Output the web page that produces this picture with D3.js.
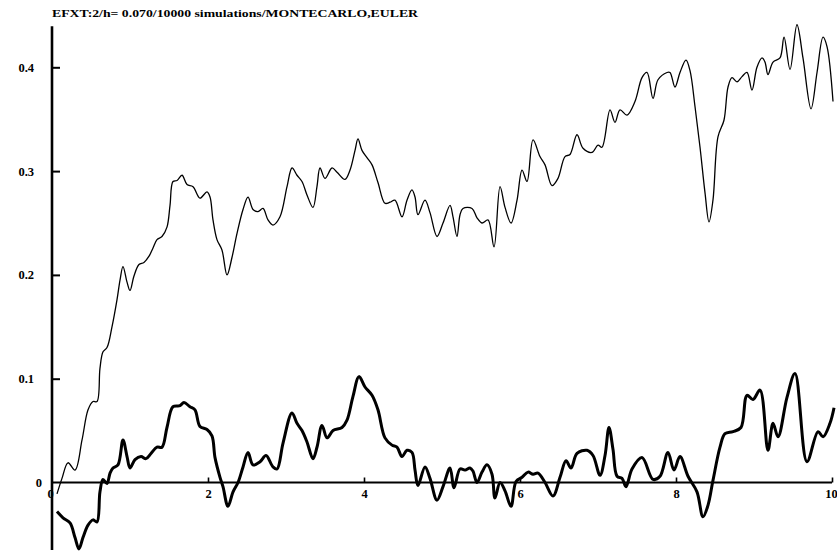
<!DOCTYPE html>
<html><head><meta charset="utf-8">
<script src="https://cdn.jsdelivr.net/npm/d3@7"></script>
<style>body{margin:0;background:#fff}svg{display:block}</style>
</head><body><svg id="c" width="837" height="553"></svg>
<script>
const titleText = "EFXT:2/h= 0.070/10000 simulations/MONTECARLO,EULER";
const xTickValues = [0, 2, 4, 6, 8, 10];
const yTickValues = [0, 0.1, 0.2, 0.3, 0.4];

const upperT = [0.064,0.128,0.205,0.295,0.385,0.462,0.526,0.577,0.615,0.654,0.705,0.769,0.833,0.872,0.910,0.962,1.000,1.051,1.115,1.179,1.244,1.295,1.346,1.410,1.474,1.513,1.551,1.603,1.667,1.731,1.808,1.897,1.987,2.026,2.064,2.115,2.179,2.244,2.308,2.372,2.449,2.513,2.577,2.641,2.705,2.769,2.833,2.923,3.013,3.077,3.141,3.205,3.269,3.346,3.397,3.436,3.500,3.590,3.654,3.756,3.821,3.885,3.923,3.974,4.038,4.103,4.179,4.269,4.333,4.397,4.487,4.551,4.615,4.654,4.692,4.782,4.846,4.936,5.013,5.103,5.141,5.192,5.231,5.269,5.385,5.449,5.513,5.590,5.667,5.744,5.808,5.885,5.962,6.026,6.090,6.167,6.256,6.321,6.410,6.487,6.577,6.641,6.731,6.808,6.923,7.000,7.051,7.154,7.218,7.282,7.372,7.474,7.564,7.628,7.705,7.769,7.885,7.923,7.987,8.051,8.128,8.179,8.244,8.308,8.372,8.423,8.474,8.538,8.615,8.667,8.718,8.782,8.846,8.910,8.974,9.038,9.103,9.141,9.179,9.244,9.333,9.385,9.462,9.551,9.628,9.731,9.808,9.885,9.936,10.013];
const upperV = [-0.011,0.004,0.019,0.012,0.041,0.070,0.078,0.078,0.110,0.126,0.130,0.150,0.176,0.195,0.208,0.193,0.185,0.199,0.210,0.212,0.218,0.226,0.234,0.237,0.246,0.267,0.290,0.291,0.296,0.287,0.285,0.274,0.280,0.275,0.253,0.234,0.224,0.200,0.217,0.240,0.263,0.275,0.263,0.261,0.264,0.253,0.248,0.256,0.285,0.303,0.296,0.290,0.277,0.265,0.285,0.303,0.293,0.303,0.299,0.292,0.301,0.320,0.331,0.320,0.313,0.306,0.289,0.269,0.270,0.272,0.256,0.272,0.282,0.275,0.258,0.272,0.260,0.237,0.250,0.267,0.256,0.237,0.258,0.264,0.264,0.255,0.250,0.253,0.227,0.285,0.265,0.250,0.272,0.301,0.290,0.330,0.314,0.306,0.286,0.293,0.314,0.316,0.335,0.322,0.318,0.325,0.323,0.359,0.347,0.359,0.354,0.367,0.390,0.395,0.370,0.388,0.395,0.395,0.381,0.395,0.407,0.397,0.362,0.323,0.279,0.251,0.272,0.333,0.349,0.381,0.390,0.386,0.391,0.395,0.378,0.400,0.409,0.405,0.393,0.405,0.409,0.429,0.398,0.441,0.409,0.360,0.395,0.429,0.420,0.367];

const lowerT = [0.064,0.141,0.231,0.295,0.346,0.397,0.462,0.526,0.577,0.615,0.654,0.705,0.744,0.782,0.846,0.910,0.962,1.000,1.064,1.141,1.205,1.269,1.346,1.410,1.474,1.551,1.641,1.692,1.769,1.833,1.897,1.987,2.051,2.090,2.154,2.192,2.256,2.321,2.385,2.449,2.513,2.577,2.667,2.744,2.833,2.885,2.962,3.077,3.141,3.205,3.269,3.346,3.397,3.462,3.526,3.603,3.718,3.782,3.859,3.936,4.013,4.103,4.179,4.269,4.359,4.423,4.487,4.551,4.615,4.654,4.692,4.782,4.846,4.936,5.013,5.103,5.154,5.231,5.295,5.359,5.397,5.449,5.513,5.577,5.641,5.679,5.744,5.808,5.885,5.949,6.026,6.103,6.167,6.231,6.321,6.423,6.513,6.590,6.654,6.731,6.859,6.936,7.026,7.090,7.141,7.192,7.244,7.308,7.359,7.436,7.564,7.705,7.795,7.897,7.974,8.051,8.154,8.269,8.346,8.410,8.474,8.564,8.628,8.731,8.833,8.910,8.987,9.077,9.179,9.244,9.308,9.423,9.526,9.679,9.821,9.885,9.974,10.026];
const lowerV = [-0.028,-0.034,-0.039,-0.053,-0.064,-0.053,-0.041,-0.036,-0.038,-0.009,0.003,-0.001,0.009,0.014,0.017,0.041,0.025,0.014,0.022,0.025,0.023,0.028,0.034,0.034,0.053,0.073,0.074,0.077,0.073,0.070,0.054,0.051,0.045,0.024,0.005,-0.004,-0.023,-0.009,0.000,0.015,0.029,0.017,0.020,0.026,0.015,0.013,0.038,0.067,0.057,0.050,0.039,0.023,0.034,0.055,0.043,0.050,0.053,0.060,0.083,0.102,0.092,0.084,0.070,0.043,0.036,0.034,0.025,0.031,0.029,0.012,-0.003,0.015,0.004,-0.017,-0.004,0.014,-0.005,0.013,0.012,0.014,0.011,0.000,0.010,0.017,0.008,-0.015,0.000,-0.008,-0.023,0.001,0.005,0.010,0.008,0.009,0.000,-0.013,0.005,0.021,0.014,0.028,0.031,0.026,0.007,0.026,0.053,0.032,0.006,0.004,-0.004,0.013,0.024,0.003,0.006,0.029,0.012,0.025,0.006,-0.009,-0.033,-0.022,0.002,0.034,0.047,0.049,0.053,0.084,0.080,0.089,0.031,0.057,0.044,0.082,0.105,0.020,0.049,0.044,0.057,0.072];

const svg = d3.select("#c");
const x = d3.scaleLinear().domain([0, 10]).range([52, 832]);
const y = d3.scaleLinear().domain([0, 0.4]).range([482.5, 67.3]);
const font = "'Liberation Serif','Times New Roman',serif";

// title
svg.append("text").attr("x", 52).attr("y", 16.5)
  .attr("font-family", font).attr("font-weight", "bold").attr("font-size", 10.5)
  .attr("textLength", 366).attr("lengthAdjust", "spacingAndGlyphs")
  .text(titleText);

// axis lines
svg.append("line").attr("x1", x(0)).attr("x2", x(0))
  .attr("y1", y(0.44) + 0.5).attr("y2", y(-0.065))
  .attr("stroke", "#000").attr("stroke-width", 2.6);
svg.append("line").attr("x1", x(0)).attr("x2", x(10))
  .attr("y1", y(0)).attr("y2", y(0))
  .attr("stroke", "#000").attr("stroke-width", 2);

// y axis ticks
const yAxis = d3.axisLeft(y).tickValues(yTickValues)
  .tickSizeInner(-8).tickSizeOuter(0).tickPadding(18)
  .tickFormat(d => d === 0 ? "0" : d3.format(".1f")(d));
const gy = svg.append("g").attr("transform", `translate(${x(0)},0)`).call(yAxis);
gy.select(".domain").remove();
gy.selectAll("line").attr("stroke", "#000").attr("stroke-width", 2)
  .filter(d => d === 0).remove();
gy.selectAll("text").attr("font-family", font).attr("font-weight", "bold")
  .attr("font-size", 12.5).attr("fill", "#000");
gy.selectAll("text").filter(d => d === 0).attr("x", -10);

// x axis ticks
const xAxis = d3.axisBottom(x).tickValues(xTickValues)
  .tickSizeInner(-5).tickSizeOuter(0).tickPadding(7)
  .tickFormat(d3.format("d"));
const gx = svg.append("g").attr("transform", `translate(0,${y(0)})`).call(xAxis);
gx.select(".domain").remove();
gx.selectAll("line").attr("stroke", "#000").attr("stroke-width", 1.6)
  .filter(d => d === 0).remove();
gx.selectAll("text").attr("font-family", font).attr("font-weight", "bold")
  .attr("font-size", 12.5).attr("fill", "#000");
gx.selectAll("text").filter(d => d === 0).attr("x", -2);
gx.selectAll("text").filter(d => d === 10).attr("x", -1);

// curves
const line = d3.line().x(d => x(d[0])).y(d => y(d[1])).curve(d3.curveCatmullRom.alpha(0.5));
svg.append("path").datum(d3.zip(upperT, upperV)).attr("d", line)
  .attr("fill", "none").attr("stroke", "#000").attr("stroke-width", 1.3);
svg.append("path").datum(d3.zip(lowerT, lowerV)).attr("d", line)
  .attr("fill", "none").attr("stroke", "#000").attr("stroke-width", 3)
  .attr("stroke-linejoin", "round");
</script></body></html>
